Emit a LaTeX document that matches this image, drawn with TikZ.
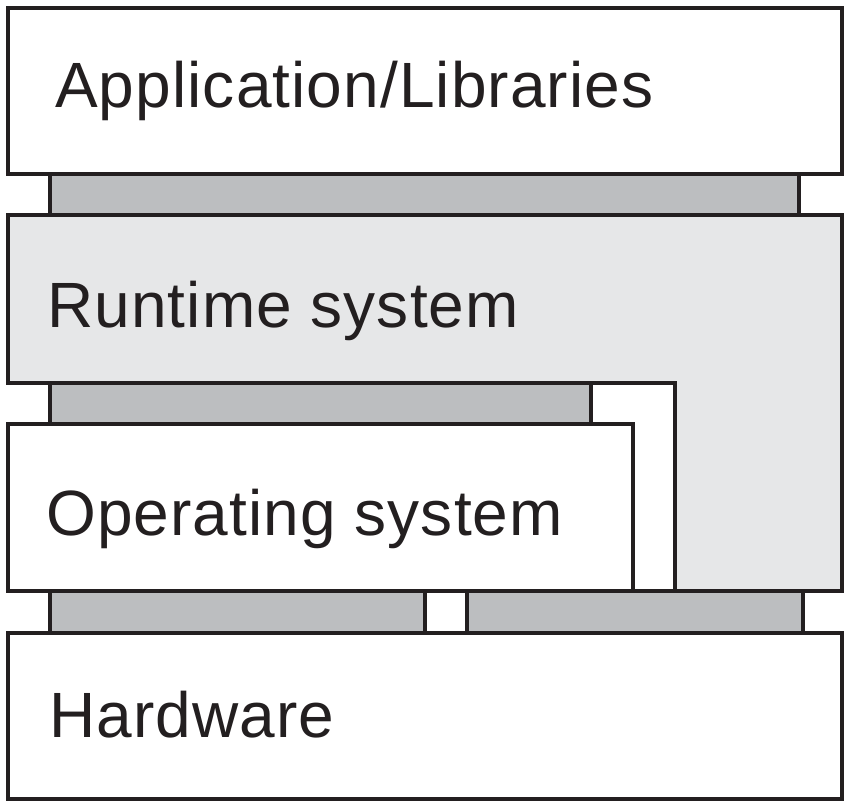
\documentclass[tikz,border=0pt]{standalone}
\usepackage{fontspec}
\setmainfont{Liberation Sans}[LetterSpace=1.7]
\definecolor{ink}{HTML}{231F20}
\definecolor{conn}{HTML}{BCBEC0}
\definecolor{rts}{HTML}{E6E7E8}
\tikzset{
  layer/.style={draw=ink, line width=4pt, fill=white, line join=miter},
  link/.style={draw=ink, line width=4pt, fill=conn},
  lbl/.style={anchor=base west, inner sep=0pt, text=ink, font=\fontsize{64}{70}\selectfont}
}
\begin{document}
\begin{tikzpicture}[x=1pt,y=-1pt]
\useasboundingbox (0,0) rectangle (850,808);
% connectors
\path[link] (50,174) rectangle (799,215);
\path[link] (50,383) rectangle (591,424);
\path[link] (50,591) rectangle (425,633);
\path[link] (467,591) rectangle (803,633);
% layers
\path[layer] (8,8) rectangle (842,174);
\path[layer, fill=rts] (8,215) -- (842,215) -- (842,591) -- (675,591) -- (675,383) -- (8,383) -- cycle;
\path[layer] (8,424) rectangle (633,591);
\path[layer] (8,633) rectangle (842,799);
% labels
\node[lbl] (app) at (55,107) {Application/Libraries};
\node[lbl] (rt) at (47,327) {Runtime system};
\node[lbl] (os) at (46,535) {Operating system};
\node[lbl] (hw) at (49,737) {Hardware};
\end{tikzpicture}
\end{document}
